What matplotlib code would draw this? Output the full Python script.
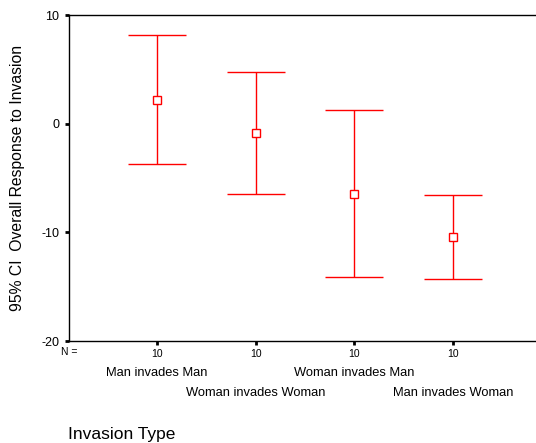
import matplotlib.pyplot as plt
import numpy as np

plt.rcParams['font.family'] = ['Liberation Sans', 'DejaVu Sans']
plt.rcParams['axes.unicode_minus'] = False

groups = ['Man invades Man', 'Woman invades Woman', 'Woman invades Man', 'Man invades Woman']
n_counts = [10, 10, 10, 10]
means = [2.2, -0.85, -6.45, -10.4]
upper = [8.2, 4.75, 1.25, -6.55]
lower = [-3.75, -6.45, -14.1, -14.25]

x = np.arange(1, len(groups) + 1)
means = np.array(means)
err = [means - np.array(lower), np.array(upper) - means]

fig = plt.figure(figsize=(5.36, 4.43), dpi=100)
ax = fig.add_axes([0.1287, 0.2302, 0.8713, 0.7359])

ax.errorbar(x, means, yerr=err, fmt='s', color='red', mfc='white', mec='red',
            ms=5.5, mew=1.0, elinewidth=1.0, capsize=21, capthick=1.0)

ax.set_xlim(0.108, 4.84)
ax.set_ylim(-20, 10)
ax.set_yticks([10, 0, -10, -20])
ax.set_xticks(x)
ax.set_xticklabels([str(n) for n in n_counts], fontsize=7.5)
ax.tick_params(axis='both', direction='out', length=3, width=2, colors='black')
ax.tick_params(axis='y', labelsize=9, pad=4)
ax.tick_params(axis='x', pad=3)
ax.spines['right'].set_visible(False)
for s in ['left', 'top', 'bottom']:
    ax.spines[s].set_linewidth(1.0)

fig.text(69 / 536, 1 - 352 / 443, 'N =', fontsize=7.5, ha='center', va='center')

# staggered category labels
for i, g in enumerate(groups):
    yy = 1 - 373 / 443 if i % 2 == 0 else 1 - 393 / 443
    fig.text((157 + 98.7 * i) / 536, yy, g, fontsize=9.3, ha='center', va='center')

fig.text(68 / 536, 1 - 435 / 443, 'Invasion Type', fontsize=12.5, ha='left', va='center')
fig.text(18 / 536, 1 - 178 / 443, '95% CI  Overall Response to Invasion', fontsize=11.3,
         rotation=90, ha='center', va='center')

plt.savefig('out.png', dpi=100)
